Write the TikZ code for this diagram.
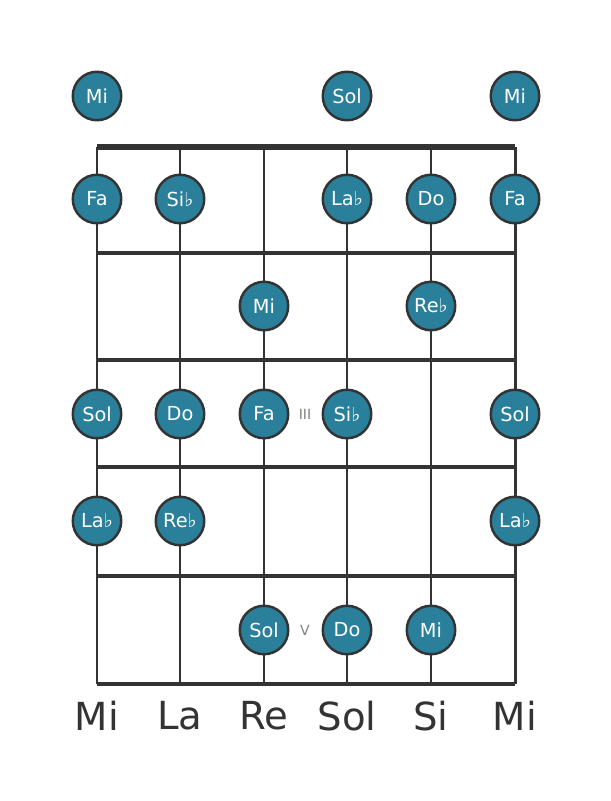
\documentclass[tikz,border=0pt]{standalone}
\usepackage{fontspec}
\setmainfont{DejaVu Sans}
\usetikzlibrary{positioning}
\definecolor{notefill}{HTML}{2A7F9B}
\definecolor{boardgray}{HTML}{333333}
\begin{document}
\begin{tikzpicture}[x=0.02cm, y=-0.02cm,
  note/.style={circle, draw=boardgray, line width=1.4pt, fill=notefill,
    minimum size=0.97cm, inner sep=0pt, text=white,
    font=\fontsize{11}{11}\selectfont},
  fretmark/.style={text=gray, font=\fontsize{8}{8}\selectfont},
  tuning/.style={text=boardgray, font=\fontsize{22}{22}\selectfont}]
	  \useasboundingbox (0, 0) rectangle (611, 801);
	  % strings
	  \foreach \x in {97, 180, 264, 347, 431, 515}
	  {
		\draw[boardgray, line width=1.7pt](\x, 147) -- (\x, 684);
	  }
	  % frets
	  \draw[boardgray, line width=3pt](97, 147) -- (515, 147);
	  \foreach \y in {253, 360, 467, 576, 684}
	  {
		\draw[boardgray, line width=2.4pt](97, \y) -- (515, \y);
	  }
	  % notes
	  \foreach \x/\y/\t/\n in {97/96/Mi/a1, 347/96/Sol/a4, 515/96/Mi/a6,
		97/199/Fa/b1, 180/199/Si♭/b2, 347/199/La♭/b4, 431/199/Do/b5, 515/199/Fa/b6,
		264/306/Mi/c3, 431/306/Re♭/c5,
		97/414/Sol/d1, 180/414/Do/d2, 264/414/Fa/d3, 347/414/Si♭/d4, 515/414/Sol/d6,
		97/521/La♭/e1, 180/521/Re♭/e2, 515/521/La♭/e6,
		264/630/Sol/f3, 347/630/Do/f4, 431/630/Mi/f5}
	  {
		\node[note](\n) at (\x, \y) {\t};
	  }
	  \node[fretmark](m3) at (305, 414) {III};
	  \node[fretmark](m5) at (305, 630) {V};
	  % open strings
	  \foreach \x/\t/\n in {97/Mi/s1, 180/La/s2, 264/Re/s3, 347/Sol/s4, 431/Si/s5, 515/Mi/s6}
	  {
		\node[tuning](\n) at (\x, 716) {\t};
	  }
	\end{tikzpicture}
\end{document}
